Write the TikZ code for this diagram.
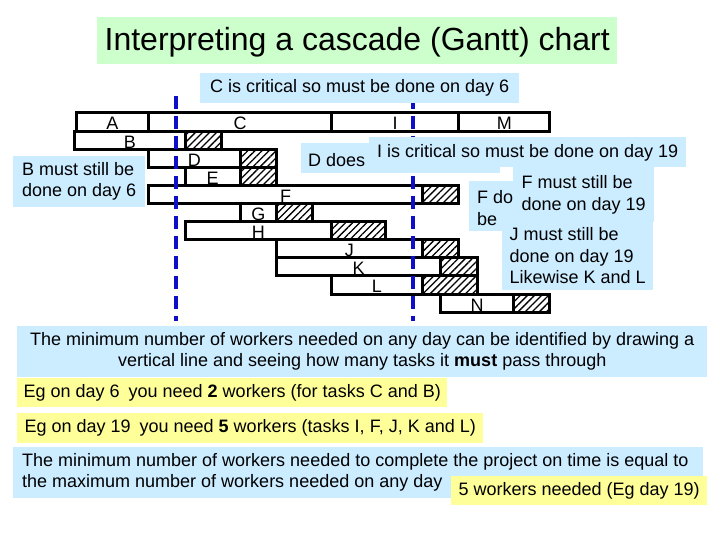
\documentclass[tikz,border=0pt]{standalone}
\usepackage{fontspec}
\setmainfont{Liberation Sans}
\usetikzlibrary{patterns.meta}
\definecolor{callblue}{RGB}{204,236,255}
\definecolor{callyellow}{RGB}{255,255,153}
\definecolor{titlegreen}{RGB}{204,255,204}
\definecolor{lineblue}{RGB}{15,15,200}
\newcommand\leftblock[2]{\makebox[#1][l]{\begin{tabular}{@{}l@{}}#2\end{tabular}}}
\newcommand\lowerby[2]{\raisebox{-#1}[\height][\depth]{#2}}
\begin{document}
\begin{tikzpicture}[x=1pt,y=-1pt,
  txt/.style={font=\fontsize{18}{21}\selectfont},
  boxb/.style={txt, fill=callblue, anchor=north west, inner ysep=0pt, inner xsep=0pt},
  boxy/.style={txt, fill=callyellow, anchor=north west, inner ysep=0pt, inner xsep=0pt},
  bar/.style={draw=black, line width=3, fill=white},
  hatchbar/.style={draw=black, line width=3, fill=white, postaction={pattern={Lines[angle=45,distance=5pt,line width=1.3pt]}}},
  lab/.style={font=\fontsize{18}{20}\selectfont, inner sep=0pt},
  dayline/.style={draw=lineblue, line width=4, dash pattern=on 13pt off 7pt}]
\useasboundingbox (0,0) rectangle (720,540);

% title
\node[fill=titlegreen, anchor=north west, minimum width=520, minimum height=47, inner sep=0pt,
  font=\fontsize{32}{38}\selectfont] (title) at (97,17) {\lowerby{2pt}{Interpreting a cascade (Gantt) chart}};

% Gantt chart
\begin{scope}[shift={(76,113)}, x=18.23pt, y=-18.1pt]
  % row 0
  \draw[bar] (0,0) rectangle (4,1);
  \draw[bar] (4,0) rectangle (14,1);
  \draw[bar] (14,0) rectangle (21,1);
  \draw[bar] (21,0) rectangle (26,1);
  \node[lab] (labA) at (2,0.55) {A};
  \node[lab] (labC) at (9,0.55) {C};
  \node[lab] (labI) at (17.5,0.55) {I};
  \node[lab] (labM) at (23.5,0.55) {M};
  % other rows
  \foreach \r/\a/\b/\c/\l in {1/-0.1/6/8/B, 2/4/9/11/D, 3/6/9/11/E, 4/4/19/21/F,
      5/9/11/13/G, 6/6/14/17/H, 7/11/19/21/J, 8/11/20/22/K, 9/14/19/22/L, 10/20/24/26/N}{
    \draw[bar] (\a,\r) rectangle (\b,\r+1);
    \draw[hatchbar] (\b,\r) rectangle (\c,\r+1);
    \node[lab] (lab\l) at ({(\a+\b)/2},\r+0.6) {\l};
  }
  \coordinate (d6t) at (5.5,-0.95);
  \coordinate (d6b) at (5.5,11.5);
  \coordinate (d19t) at (18.5,-0.95);
  \coordinate (d19b) at (18.5,11.5);
\end{scope}
\draw[dayline] (d6t) -- (d6b);
\draw[dayline] (d19t) -- (d19b);

% callouts
\node[boxb, minimum width=319, minimum height=30] (ccrit) at (200,73) {C is critical so must be done on day 6};
\node[boxb, minimum width=132, minimum height=51, align=left] (bstill) at (13,156) {B must still be\\done on day 6};
\node[boxb, minimum width=199, minimum height=30, inner xsep=7pt] (ddoes) at (301,143) {\makebox[185pt][l]{\lowerby{1.5pt}{D does}}};
\node[boxb, minimum width=317, minimum height=30] (icrit) at (369,137) {\lowerby{1pt}{I is critical so must be done on day 19}};
\node[boxb, minimum width=131, minimum height=50, inner xsep=8pt,
  font=\fontsize{18}{22}\selectfont] (fdo) at (469,181) {\lowerby{4pt}{\leftblock{115pt}{F do\\be}}};
\node[boxb, minimum width=141, minimum height=55, align=left, font=\fontsize{18}{22}\selectfont] (fmust) at (513,167) {F must still be\\done on day 19};
\node[boxb, minimum width=151, minimum height=69, align=left, font=\fontsize{18}{21.5}\selectfont] (jmust) at (502,221) {J must still be\\done on day 19\\Likewise K and L};

% bottom text
\node[boxb, minimum width=690, minimum height=51, align=center] (minday) at (17,326)
  {The minimum number of workers needed on any day can be identified by drawing a\\vertical line and seeing how many tasks it \textbf{must} pass through};
\node[boxy, minimum width=430, minimum height=29] (eg6) at (17,378)
  {Eg on day 6\kern4pt\ you need \textbf{2} workers (for tasks C and B)};
\node[boxy, minimum width=466, minimum height=30] (eg19) at (17,413)
  {Eg on day 19\kern4pt\ you need \textbf{5} workers (tasks I, F, J, K and L)};
\node[boxb, minimum width=690, minimum height=51, inner xsep=9pt] (minproj) at (13,447)
  {\leftblock{672pt}{The minimum number of workers needed to complete the project on time is equal to\\the maximum number of workers needed on any day}};
\node[boxy, minimum width=256, minimum height=29] (five) at (451,476) {5 workers needed (Eg day 19)};
\end{tikzpicture}
\end{document}
